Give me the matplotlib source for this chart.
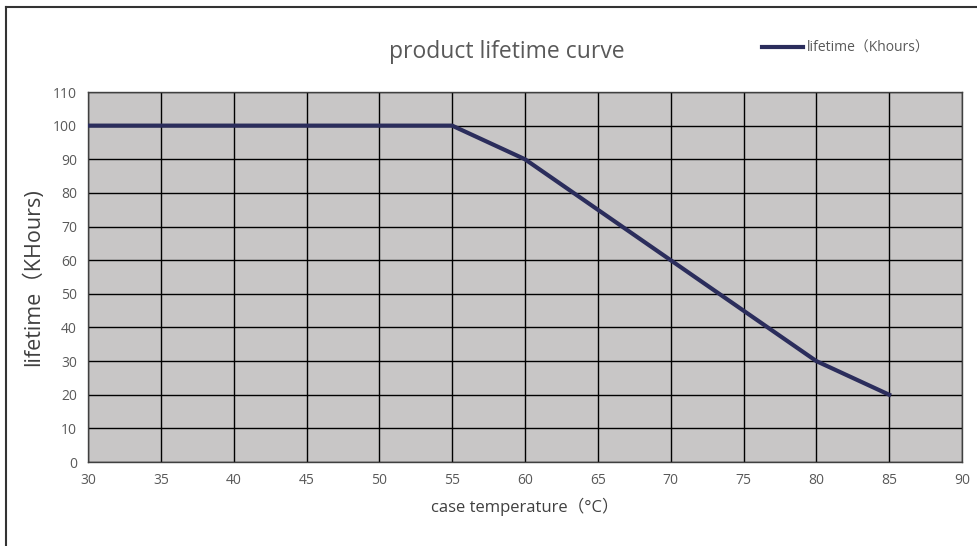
import matplotlib
matplotlib.use("Agg")
import matplotlib.pyplot as plt
from matplotlib.lines import Line2D

temps = [30, 35, 40, 45, 50, 55, 60, 65, 70, 75, 80, 85]
lifetime = [100, 100, 100, 100, 100, 100, 90, 75, 60, 45, 30, 20]
xticks = list(range(30, 95, 5))
yticks = list(range(0, 120, 10))

plt.rcParams['font.family'] = ['Open Sans', 'Noto Sans CJK SC', 'DejaVu Sans']

fig = plt.figure(figsize=(9.77, 5.46), dpi=100)
ax = fig.add_axes([88/977, 1-462/546, (962-88)/977, (462-92)/546])
ax.set_facecolor('#c8c6c6')
ax.plot(temps, lifetime, color='#2b2d5c', lw=3, label='lifetime（Khours）', zorder=3)
ax.set_xlim(30, 90)
ax.set_ylim(0, 110)
ax.set_xticks(xticks)
ax.set_yticks(yticks)
ax.grid(True, color='black', lw=1, zorder=1)
ax.set_axisbelow(True)
ax.tick_params(length=0, labelsize=10, labelcolor='#595959', pad=8)
for s in ax.spines.values():
    s.set_color('#404040')
    s.set_linewidth(1)

ax.set_xlabel('case temperature（°C）', fontsize=12, color='#404040', labelpad=7)
ax.set_ylabel('lifetime（KHours)', fontsize=15.5, color='#404040', labelpad=6)
fig.text(507/977, 1-52/546, 'product lifetime curve', fontsize=16.5, color='#595959',
         ha='center', va='center')
leg = ax.legend(loc='center left', bbox_to_anchor=(749/977, 1-48/546), bbox_transform=fig.transFigure,
                frameon=False, fontsize=10, handlelength=3.0, handletextpad=0.25, labelcolor='#595959')

# outer frame
fig.add_artist(Line2D([6/977, 6/977], [0, 1-7/546], transform=fig.transFigure, color='#333333', lw=1.5))
fig.add_artist(Line2D([6/977, 1], [1-7/546, 1-7/546], transform=fig.transFigure, color='#333333', lw=1.5))

fig.savefig('out.png', dpi=100)
